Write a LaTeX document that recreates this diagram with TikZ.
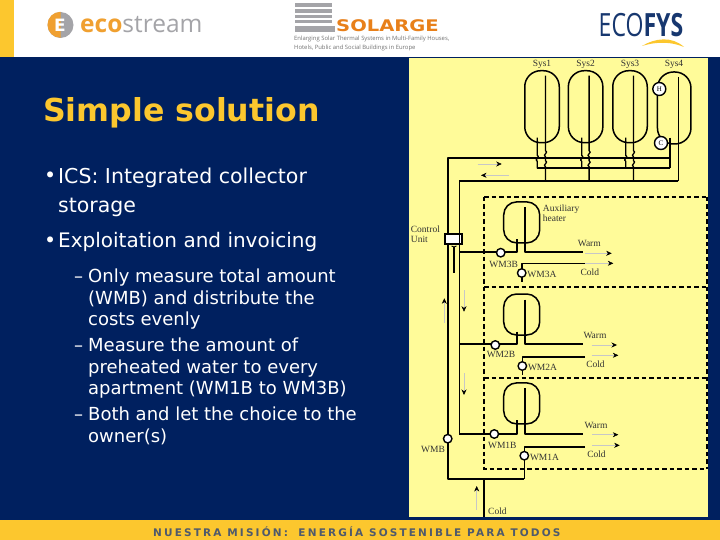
\documentclass[tikz,border=0pt]{standalone}
\usepackage{fontspec}
\setmainfont{DejaVu Sans}[BoldFont={DejaVu Sans Bold}]
\newfontfamily\labfont{Liberation Serif}
\newfontfamily\logofont{Open Sans}
\newfontfamily\footfont[LetterSpace=20.5]{DejaVu Sans Bold}
\usetikzlibrary{arrows.meta}
\definecolor{navy}{HTML}{00205F}
\definecolor{gold}{HTML}{FCC72E}
\definecolor{panel}{HTML}{FFFB99}
\definecolor{logoorange}{HTML}{E8801A}
\definecolor{ecoorange}{HTML}{F0A030}
\definecolor{logogrey}{HTML}{A4A4A8}
\definecolor{logonavy}{HTML}{17376F}
\definecolor{footgrey}{HTML}{4F5A6C}
\tikzset{
  pipe/.style={line width=1.6pt,line join=round},
  thinpipe/.style={line width=1.3pt,line join=round},
  tank/.style={draw,line width=1.5pt,rounded corners=13pt,inner sep=0pt},
  meter/.style={draw,circle,fill=white,line width=1.4pt,minimum size=8.5pt,inner sep=0pt},
  zone/.style={line width=1.9pt,dash pattern=on 4.5pt off 3pt},
  flow/.style={draw=black!22,line width=.5pt,-{Stealth[black,length=5.5pt,width=5pt]}},
  lab/.style={font=\labfont\fontsize{9.5}{10}\selectfont,text=black!80,inner sep=0pt,anchor=west,align=left},
  bullet/.style={font=\fontsize{20.5}{29}\selectfont,text=white,inner sep=0pt,anchor=north west,align=left},
  sub/.style={font=\fontsize{18}{21.5}\selectfont,text=white,inner sep=0pt,anchor=north west,align=left},
  listmark/.style={text=white,inner sep=0pt,anchor=base west}
}
\newcommand{\wig}{.. controls +(4,1.5) and +(-4,-1.5) .. ++(0,6)}
\begin{document}
\begin{tikzpicture}[x=1pt,y=-1pt,>=stealth]
  \useasboundingbox (0,0) rectangle (720,540);
  % background
  \fill[white] (0,0) rectangle (720,57);
  \fill[navy] (0,57) rectangle (720,520);
  \fill[gold] (0,0) rectangle (14,57);
  \fill[gold] (0,520) rectangle (720,540);
  \fill[panel] (409,58) rectangle (708,517);
  % logos
  \node[fill=logogrey,circle,minimum size=26pt,inner sep=0pt] (eco) at (60.5,25) {};
  \fill[ecoorange] (eco.north) arc (90:270:13pt) -- cycle;
  \node[font=\bfseries\fontsize{17}{17}\selectfont,text=white,inner sep=0pt] (ecoE) at (60,25) {E};
  \node[font=\logofont\fontsize{24.5}{26}\selectfont,inner sep=0pt,anchor=west] (ecoT) at (80,25) {\textcolor{ecoorange}{\bfseries eco}\textcolor{logogrey}{stream}};
  \foreach \y/\h in {3.3/3.4,9/3.6,14.7/3.6,20/3.4} {
    \fill[logogrey] (295,\y) rectangle (332,\y+\h);
  }
  \fill[logogrey] (295,26) rectangle (335,31.7);
  \node[font=\bfseries\fontsize{16}{16}\selectfont,text=logoorange,inner sep=0pt,anchor=west,xscale=1.22] (sol) at (336,26) {SOLARGE};
  \node[font=\logofont\fontsize{5.9}{8.4}\selectfont,text=black!55,inner sep=0pt,anchor=north west,align=left] (solT) at (294,36) {Enlarging Solar Thermal Systems in Multi-Family Houses,\\Hotels, Public and Social Buildings in Europe};
  \node[font=\logofont\fontsize{32}{32}\selectfont,text=logonavy,inner sep=0pt,xscale=.72] (fys) at (641,25.5) {ECO\textbf{FYS}};
  \fill[gold] (642,46) .. controls (655,38) and (672,36) .. (684,47) .. controls (672,42) and (658,41) .. cycle;
  % texts
  \node[font=\bfseries\fontsize{31.6}{32}\selectfont,text=gold,inner sep=0pt,anchor=base west] (title) at (43,122) {Simple solution};
  \node[listmark,font=\fontsize{20.5}{29}\selectfont] (b1) at (44,182.7) {•};
  \node[bullet] (b1t) at (58,167.7) {ICS: Integrated collector\\storage};
  \node[listmark,font=\fontsize{20.5}{29}\selectfont] (b2) at (44,247.3) {•};
  \node[bullet,font=\fontsize{20}{29}\selectfont] (b2t) at (58,231.7) {Exploitation and invoicing};
  \node[listmark,font=\fontsize{18}{21.5}\selectfont] (d1) at (74,282) {–};
  \node[sub] (s1) at (88,269) {Only measure total amount\\(WMB) and distribute the\\costs evenly};
  \node[listmark,font=\fontsize{18}{21.5}\selectfont] (d2) at (74,351) {–};
  \node[sub] (s2) at (88,338) {Measure the amount of\\preheated water to every\\apartment (WM1B to WM3B)};
  \node[listmark,font=\fontsize{18}{21.5}\selectfont] (d3) at (74,420) {–};
  \node[sub] (s3) at (88,407) {Both and let the choice to the\\owner(s)};
  \node[font=\footfont\fontsize{10.5}{11}\selectfont,text=footgrey,inner sep=0pt,anchor=west] (foot) at (153,531.5) {NUESTRA MISIÓN:\quad ENERGÍA SOSTENIBLE PARA TODOS};
  % collectors
  \foreach \n/\x/\lx in {1/542/537.3,2/585.6/581.7,3/630/625.7} {
    \node[tank,minimum width=34.5pt,minimum height=72pt,rounded corners=16pt] (T\n) at (\x,106.7) {};
    \node[lab,anchor=center] (L\n) at (\x,64) {Sys\n};
    \coordinate (P\n) at (\x+3.5,75.7);
    \coordinate (Q\n) at (\lx,137.7);
    \draw[thinpipe] (P\n) -- ++(0,75) \wig -- ++(0,4) \wig -- ++(0,14);
    \draw[thinpipe] (Q\n) -- ++(0,17.6) \wig -- ++(0,7);
  }
  \node[tank,minimum width=33.5pt,minimum height=72pt,rounded corners=16pt] (T4) at (674.2,108) {};
  \node[lab,anchor=center] (L4) at (674,64) {Sys4};
  \coordinate (P4) at (678.3,77);
  \coordinate (Q4) at (670,137.7);
  \coordinate (cr) at (670,158.3);
  \coordinate (ho) at (670,168.3);
  \coordinate (re) at (678.3,181);
  \draw[thinpipe] (P4) -- (re);
  \draw[thinpipe] (Q4) -- (ho);
  \node[meter,minimum size=13pt] (H) at (659.3,89) {\labfont\fontsize{7}{7}\selectfont H};
  \node[meter,minimum size=13pt] (C) at (661,143) {\labfont\fontsize{7}{7}\selectfont C};
  % main lines
  \coordinate (cl) at (447.7,158.3);
  \coordinate (rl) at (459.3,181);
  \coordinate (hl) at (537.3,168.3);
  \coordinate (bl) at (447.7,479);
  \coordinate (br) at (524.3,479);
  \coordinate (bm) at (484,479);
  \coordinate (bi) at (484,517);
  \draw[pipe] (cr) -- (cl) -- (bl) -- (br);
  \draw[pipe] (hl) -- (ho);
  \draw[pipe] (re) -- (rl);
  \draw[thinpipe] (bm) -- (bi);
  \node[draw,fill=white,line width=1.7pt,minimum width=17pt,minimum height=10pt,inner sep=0pt] (CU) at (453.5,239) {};
  \node[lab] (CUt) at (410.7,234) {Control\\Unit};
  \node[meter] (WMB) at (447.7,438.7) {};
  \node[lab] (WMBt) at (421,449) {WMB};
  \node[lab] (coldin) at (488,511.7) {Cold};
  % sensor below the control unit
  \coordinate (sa) at (454,247);
  \coordinate (sb) at (454,272.5);
  \draw[line width=1.1pt] (sa) -- (sb);
  \draw[line width=.9pt] (451.5,246) -- (sa) -- (456.5,246);
  % dwellings
  \draw[zone] (484,196.7) -- (706.7,196.7);
  \draw[zone] (484,196.7) -- (484,468.7) -- (706.7,468.7);
  \draw[zone] (484,287.3) -- (706.7,287.3);
  \draw[zone] (484,378) -- (706.7,378);
  \draw[zone] (706.7,196.7) -- (706.7,468.7);
  \foreach \k/\lw/\ty/\yw/\yc/\ye/\bx/\ax/\ym/\wx/\wy/\cy/\yb/\fa/\fb/\fc/\ar/\arx/\bly/\bmx in {
      3/1.1/222.4/252/263.3/281.7/500.7/521.7/273/589.3/243.3/272.7/252.7/585/611.7/253.3/263.3/613.3/264.7/503.7,
      2/1.7/314.5/344.3/356.7/375/495.3/522.3/366/595/335.7/364.3/345/591.7/617/345/355.3/618.3/354.7/501,
      1/1.7/403.4/434/446.7/479/494.3/524.3/455.7/596/425.3/454/434/592.3/618.3/434.7/445.3/619.7/445/502.3} {
    \node[tank,minimum width=36pt,minimum height=41pt] (A\k) at (521.7,\ty) {};
    \coordinate (Wi\k) at (525,\ty-15);
    \coordinate (We\k) at (525,\yw);
    \coordinate (Wo\k) at (583.3,\yw);
    \coordinate (Ri\k) at (517,\ty+17);
    \coordinate (Re\k) at (517,\yw);
    \coordinate (Rl\k) at (459.3,\yw);
    \coordinate (Co\k) at (585,\yc);
    \coordinate (Cb\k) at (\ax,\yc);
    \coordinate (Ce\k) at (\ax,\ye);
    \draw[pipe,line width=\lw pt] (Wi\k) -- (We\k) -- (Wo\k);
    \draw[pipe,line width=\lw pt] (Ri\k) -- (Re\k) -- (Rl\k);
    \draw[pipe] (Co\k) -- (Cb\k) -- (Ce\k);
    \node[meter] (B\k) at (\bx,\yb) {};
    \node[meter] (M\k) at (\ax,\ym) {};
    \node[lab,anchor=center] (BL\k) at (\bmx,\bly) {WM\k B};
    \node[lab] (ML\k) at (\ax+5.5,\ym+1.3) {WM\k A};
    \node[lab,anchor=center] (WL\k) at (\wx,\wy) {Warm};
    \node[lab,anchor=center] (CL\k) at (\wx+.5,\cy) {Cold};
    \coordinate (Fa\k) at (\fa,\fc);
    \coordinate (Fb\k) at (\fb,\fc);
    \coordinate (Fc\k) at (\fa,\ar);
    \coordinate (Fd\k) at (\arx,\ar);
    \draw[flow] (Fa\k) -- (Fb\k);
    \draw[flow] (Fc\k) -- (Fd\k);
  }
  \node[lab] (aux) at (542.7,213.5) {Auxiliary\\heater};
  \draw[pipe] (rl) -- (Rl1);
  % flow arrows
  \foreach \a/\ax/\ay/\bx/\by in {a/477.7/164/501.7/164,b/509/175.3/481/175.3,c/444.3/322.7/444.3/298.3,d/464/290/464/311.7,e/464/373.3/464/395,f/476.7/510/476.7/486} {
    \coordinate (f\a) at (\ax,\ay);
    \coordinate (g\a) at (\bx,\by);
    \draw[flow] (f\a) -- (g\a);
  }
\end{tikzpicture}
\end{document}
